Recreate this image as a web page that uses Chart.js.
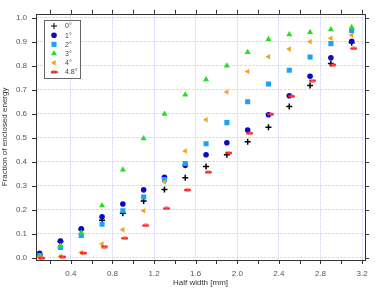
<!DOCTYPE html>
<html><head><meta charset="utf-8">
<script src="https://cdn.jsdelivr.net/npm/chart.js@4/dist/chart.umd.min.js"></script>
<style>html,body{margin:0;padding:0;background:#fff}canvas{display:block}</style>
</head><body>
<canvas id="c" width="384" height="288"></canvas>
<script>
// ---- data ----
const halfWidth = [0.1,0.3,0.5,0.7,0.9,1.1,1.3,1.5,1.7,1.9,2.1,2.3,2.5,2.7,2.9,3.1];
const deg0  = [0.012,0.068,0.118,0.157,0.186,0.237,0.284,0.333,0.380,0.429,0.483,0.544,0.630,0.717,0.809,0.895];
const deg1  = [0.019,0.070,0.121,0.171,0.224,0.283,0.335,0.385,0.429,0.479,0.532,0.596,0.675,0.756,0.833,0.902];
const deg2  = [0.010,0.043,0.093,0.140,0.196,0.253,0.326,0.393,0.475,0.563,0.650,0.724,0.781,0.836,0.892,0.946];
const deg3  = [0.007,0.049,0.104,0.218,0.367,0.497,0.599,0.679,0.742,0.800,0.856,0.910,0.930,0.939,0.951,0.960];
const deg4  = [0.000,0.007,0.022,0.058,0.117,0.196,0.316,0.445,0.575,0.690,0.776,0.837,0.869,0.900,0.914,0.927];
const deg48 = [0.000,0.005,0.020,0.047,0.082,0.135,0.206,0.283,0.357,0.437,0.519,0.598,0.673,0.738,0.804,0.872];
const deg48Shift = 0.02;
const seriesNames = ['0°','1°','2°','3°','4°','4.8°'];
const xTicks = [0.2,0.4,0.6,0.8,1.0,1.2,1.4,1.6,1.8,2.0,2.2,2.4,2.6,2.8,3.0,3.2];
const xLabelTicks = [0.4,0.8,1.2,1.6,2.0,2.4,2.8,3.2];
const yTicks = [0.0,0.1,0.2,0.3,0.4,0.5,0.6,0.7,0.8,0.9,1.0];

// ---- marker for 4.8° ----
const redMark = document.createElement('canvas');
redMark.width = 7; redMark.height = 4;
(function(){const g=redMark.getContext('2d');g.fillStyle='#ff1a1a';g.beginPath();g.ellipse(3.5,2,3.5,1.6,0,0,Math.PI*2);g.fill();g.fillStyle='#ffb0b0';g.fillRect(3,1.5,1,1);})();

const pts = (ys, dx=0) => ys.map((y,i)=>({x: halfWidth[i]+dx, y}));
const FONT = 'Liberation Sans, Arial, sans-serif';

const datasets = [
  {label:seriesNames[0], data:pts(deg0), pointStyle:'cross', radius:3, borderColor:'#000', backgroundColor:'#000', borderWidth:1.5, order:5},
  {label:seriesNames[1], data:pts(deg1), pointStyle:'circle', radius:2.8, borderColor:'#0a0ac8', backgroundColor:'#0a0ac8', borderWidth:0, order:4},
  {label:seriesNames[2], data:pts(deg2), pointStyle:'rect', radius:3.6, borderColor:'#1ea0f5', backgroundColor:'#1ea0f5', borderWidth:0, order:3},
  {label:seriesNames[3], data:pts(deg3), pointStyle:'triangle', radius:3.5, borderColor:'#22e022', backgroundColor:'#22e022', borderWidth:0, order:2},
  {label:seriesNames[4], data:pts(deg4), pointStyle:'triangle', rotation:-90, radius:3.2, borderColor:'#f5a21e', backgroundColor:'#f5a21e', borderWidth:0, order:1},
  {label:seriesNames[5], data:pts(deg48, deg48Shift), pointStyle:redMark, radius:3, borderColor:'#ff1a1a', backgroundColor:'#ff1a1a', borderWidth:0, order:0},
];
datasets.forEach(d=>{d.showLine=false; d.pointRadius=d.radius; d.pointHoverRadius=d.radius; d.pointRotation=d.rotation||0;});

const near = (v, arr) => arr.some(a=>Math.abs(a-v)<1e-6);

const framePlugin = {
  id:'frame',
  afterDraw(chart){
    const {ctx, chartArea:a, scales:{x,y}} = chart;
    ctx.save();
    ctx.strokeStyle='#333'; ctx.lineWidth=1;
    ctx.strokeRect(Math.round(a.left)+0.5, Math.round(a.top)+0.5, Math.round(a.right-a.left), Math.round(a.bottom-a.top));
    ctx.beginPath();
    const L=4;
    xTicks.forEach(v=>{const px=Math.round(x.getPixelForValue(v))+0.5;
      ctx.moveTo(px, a.bottom); ctx.lineTo(px, a.bottom+L);
      ctx.moveTo(px, a.top); ctx.lineTo(px, a.top-L);});
    yTicks.forEach(v=>{const py=Math.round(y.getPixelForValue(v))+0.5;
      ctx.moveTo(a.left, py); ctx.lineTo(a.left-L, py);
      ctx.moveTo(a.right, py); ctx.lineTo(a.right+L, py);});
    ctx.stroke();
    // legend
    const bx=44.5, by=20.5, bw=36, bh=58, rowH=9.2;
    ctx.fillStyle='#fff'; ctx.fillRect(bx,by,bw,bh);
    ctx.strokeStyle='#666'; ctx.strokeRect(bx,by,bw,bh);
    ctx.font='7px '+FONT; ctx.textBaseline='middle'; ctx.textAlign='left';
    datasets.forEach((d,i)=>{
      const cy = by+5.5+i*rowH;
      ctx.fillStyle=d.backgroundColor; ctx.strokeStyle=d.borderColor;
      Chart.helpers.drawPoint(ctx,{pointStyle:d.pointStyle, radius:d.radius, rotation:d.pointRotation, borderWidth:d.borderWidth}, 54, cy);
      ctx.fillStyle='#444'; ctx.fillText(d.label, 65, cy+0.5);
    });
    ctx.restore();
  }
};

const GRID = 'rgba(175,175,245,0.45)';
new Chart(document.getElementById('c'), {
  type:'scatter',
  data:{datasets},
  options:{
    responsive:false, animation:false, devicePixelRatio:1,
    layout:{padding:{left:0,right:19,top:5,bottom:0}},
    plugins:{legend:{display:false}, tooltip:{enabled:false}},
    scales:{
      x:{type:'linear', min:0.065, max:3.228,
        afterBuildTicks:s=>{s.ticks=xTicks.map(v=>({value:v}));},
        afterFit:s=>{s.height=28;},
        ticks:{autoSkip:false, maxRotation:0, padding:9, color:'#555', font:{family:FONT,size:8},
          callback:v=>near(v,xLabelTicks)?v.toFixed(1):''},
        grid:{drawTicks:false, lineWidth:1, color:c=>(c.tick&&near(c.tick.value,xLabelTicks))?GRID:'rgba(0,0,0,0)'},
        border:{display:false, dash:[3,1]},
        title:{display:true, text:'Half width [mm]', color:'#333', font:{family:FONT,size:8}, padding:{top:0,bottom:0}}
      },
      y:{type:'linear', min:-0.009, max:1.016,
        afterBuildTicks:s=>{s.ticks=yTicks.map(v=>({value:v}));},
        afterFit:s=>{s.width=36;},
        ticks:{autoSkip:false, padding:9, color:'#555', font:{family:FONT,size:8}, callback:v=>v.toFixed(1)},
        grid:{drawTicks:false, lineWidth:1, color:GRID},
        border:{display:false, dash:[3,1]},
        title:{display:true, text:'Fraction of enclosed energy', color:'#333', font:{family:FONT,size:8}, padding:{top:0,bottom:1}}
      }
    }
  },
  plugins:[framePlugin]
});
</script>
</body></html>
